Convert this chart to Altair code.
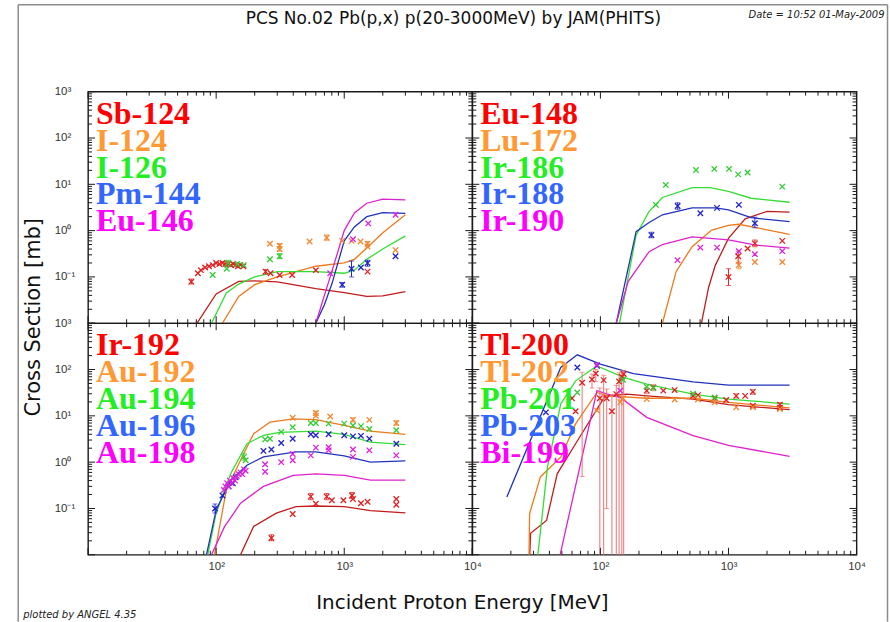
import altair as alt
import pandas as pd

# ---------------------------------------------------------------- layout
W, H = 385, 232
X_DOMAIN = [10, 10000]
Y_DOMAIN = [0.01, 1000]

X_MAJOR = [10, 100, 1000, 10000]
Y_MAJOR = [0.01, 0.1, 1, 10, 100, 1000]
MINOR_STEPS = [2, 3, 4, 5, 6, 7, 8, 9]
X_LABELS = [100, 1000, 10000]
Y_LABELS = [0.1, 1, 10, 100, 1000]

TEXT_COLORS = ["#ff0000", "#ff9933", "#22ee22", "#3366ff", "#ff00ff"]
CURVE_COLORS = ["#c01c1c", "#ee7a1a", "#33dd33", "#2233bb", "#dd22cc"]
DATA_COLORS = ["#e02020", "#f08830", "#33cc33", "#2222cc", "#dd22dd"]

# ---------------------------------------------------------------- panel 1
P1_NAMES = ["Sb-124", "I-124", "I-126", "Pm-144", "Eu-146"]

SB124_CALC_E = [60, 70, 100, 150, 200, 300, 600, 1000, 1500, 2000, 3000]
SB124_CALC_S = [0.003, 0.0095, 0.043, 0.08, 0.082, 0.078, 0.056, 0.046, 0.038, 0.039, 0.048]
I124_CALC_E = [100, 112, 150, 200, 300, 600, 1000, 1200, 1500, 2000, 3000]
I124_CALC_S = [0.003, 0.01, 0.038, 0.068, 0.1, 0.17, 0.2, 0.24, 0.42, 0.9, 2.2]
I126_CALC_E = [80, 92, 120, 150, 200, 300, 600, 1000, 1200, 1500, 2000, 3000]
I126_CALC_S = [0.002, 0.01, 0.045, 0.07, 0.1, 0.13, 0.13, 0.12, 0.14, 0.24, 0.4, 0.77]
PM144_CALC_E = [550, 600, 700, 800, 1000, 1200, 1500, 2000, 3000]
PM144_CALC_S = [0.002, 0.01, 0.025, 0.07, 0.6, 1.2, 2.0, 2.45, 2.35]
EU146_CALC_E = [550, 600, 700, 800, 1000, 1200, 1500, 2000, 3000]
EU146_CALC_S = [0.002, 0.01, 0.04, 0.13, 1.0, 2.4, 3.9, 4.8, 4.6]

SB124_EXP_E = [64, 72, 76, 82, 88, 94, 100, 106, 112, 118, 124, 130, 136, 142, 148, 155, 163,
               243, 266, 313, 392, 600, 1520]
SB124_EXP_S = [0.079, 0.12, 0.14, 0.16, 0.17, 0.18, 0.2, 0.19, 0.2, 0.19, 0.19, 0.18, 0.19, 0.18,
               0.17, 0.18, 0.17, 0.13, 0.12, 0.11, 0.11, 0.14, 0.13]
I124_EXP_E = [263, 313, 313, 536, 730, 965, 1140, 1340, 1520, 1520, 2515]
I124_EXP_S = [0.52, 0.47, 0.4, 0.58, 0.7, 0.6, 0.6, 0.58, 0.52, 0.45, 0.38]
I126_EXP_E = [94, 121, 124, 146, 164, 263, 313]
I126_EXP_S = [0.11, 0.15, 0.2, 0.19, 0.18, 0.24, 0.28]
PM144_EXP_E = [965, 1140, 1350, 1520, 2515]
PM144_EXP_S = [0.068, 0.15, 0.16, 0.2, 0.28]
EU146_EXP_E = [777, 1170, 1540, 2515]
EU146_EXP_S = [0.12, 0.65, 1.43, 2.2]

SB124_ERR_E, SB124_ERR_LO, SB124_ERR_HI = [64, 243], [0.07, 0.115], [0.09, 0.145]
I124_ERR_E, I124_ERR_LO, I124_ERR_HI = [313, 730, 1520], [0.36, 0.62, 0.45], [0.53, 0.8, 0.58]
I126_ERR_E, I126_ERR_LO, I126_ERR_HI = [124, 313], [0.17, 0.25], [0.23, 0.32]
PM144_ERR_E, PM144_ERR_LO, PM144_ERR_HI = [965, 1140, 1520], [0.06, 0.1, 0.17], [0.076, 0.22, 0.23]
EU146_ERR_E, EU146_ERR_LO, EU146_ERR_HI = [], [], []

# ---------------------------------------------------------------- panel 2
P2_NAMES = ["Eu-148", "Lu-172", "Ir-186", "Ir-188", "Ir-190"]

EU148_CALC_E = [560, 615, 700, 790, 1000, 1350, 2000, 3000]
EU148_CALC_S = [0.003, 0.01, 0.06, 0.18, 0.68, 1.8, 2.6, 2.5]
LU172_CALC_E = [280, 305, 390, 520, 740, 1000, 1200, 1800, 3000]
LU172_CALC_S = [0.003, 0.01, 0.13, 0.45, 1.03, 1.3, 1.37, 1.1, 0.83]
IR186_CALC_E = [130, 141, 190, 240, 305, 520, 720, 1000, 1500, 3000]
IR186_CALC_S = [0.003, 0.01, 0.8, 2.6, 5.2, 8.5, 8.5, 7.0, 5.0, 4.1]
IR188_CALC_E = [125, 133, 190, 240, 305, 520, 790, 1000, 1500, 3000]
IR188_CALC_S = [0.003, 0.01, 0.95, 1.5, 2.2, 3.1, 3.1, 2.8, 1.9, 1.56]
IR190_CALC_E = [125, 133, 165, 240, 305, 520, 1000, 1600, 3000]
IR190_CALC_S = [0.003, 0.01, 0.08, 0.35, 0.5, 0.73, 0.63, 0.49, 0.42]

EU148_EXP_E = [1000, 1190, 1410, 1607, 2630]
EU148_EXP_S = [0.1, 0.28, 0.41, 0.53, 0.6]
LU172_EXP_E = [1205, 1607, 2630]
LU172_EXP_S = [0.18, 0.21, 0.21]
IR186_EXP_E = [271, 324, 558, 775, 1010, 1190, 1410, 2630]
IR186_EXP_S = [3.6, 9.7, 20.4, 21.5, 21.5, 16.4, 18, 8.9]
IR188_EXP_E = [250, 401, 603, 813, 1205, 1607]
IR188_EXP_S = [0.8, 3.4, 2.37, 3.1, 3.6, 1.44]
IR190_EXP_E = [400, 603, 813, 1205, 1607, 2630]
IR190_EXP_S = [0.23, 0.43, 0.43, 0.36, 0.31, 0.36]

EU148_ERR_E, EU148_ERR_LO, EU148_ERR_HI = [1000, 1190, 1607], [0.065, 0.2, 0.45], [0.15, 0.36, 0.63]
LU172_ERR_E, LU172_ERR_LO, LU172_ERR_HI = [1205], [0.15], [0.22]
IR186_ERR_E, IR186_ERR_LO, IR186_ERR_HI = [], [], []
IR188_ERR_E, IR188_ERR_LO, IR188_ERR_HI = [250, 401, 1607], [0.7, 2.9, 1.15], [0.92, 4.0, 1.95]
IR190_ERR_E, IR190_ERR_LO, IR190_ERR_HI = [], [], []

# ---------------------------------------------------------------- panel 3
P3_NAMES = ["Ir-192", "Au-192", "Au-194", "Au-196", "Au-198"]

IR192_CALC_E = [140, 155, 196, 295, 420, 600, 1000, 1600, 3000]
IR192_CALC_S = [0.003, 0.01, 0.041, 0.079, 0.11, 0.113, 0.11, 0.09, 0.08]
AU192_CALC_E = [92, 97, 120, 155, 196, 263, 400, 600, 1000, 1600, 3000]
AU192_CALC_S = [0.003, 0.01, 0.25, 1.1, 4.1, 7.3, 8.6, 8.3, 6.2, 4.7, 4.0]
AU194_CALC_E = [80, 86, 100, 130, 174, 234, 313, 600, 1000, 1600, 3000]
AU194_CALC_S = [0.003, 0.01, 0.08, 0.57, 2.5, 3.8, 4.4, 4.7, 4.0, 2.7, 2.4]
AU196_CALC_E = [78, 84, 100, 130, 174, 234, 420, 600, 1000, 1600, 3000]
AU196_CALC_S = [0.003, 0.01, 0.093, 0.41, 0.86, 1.3, 1.66, 1.66, 1.36, 1.0, 1.07]
AU198_CALC_E = [85, 92, 116, 155, 234, 400, 600, 1000, 1600, 3000]
AU198_CALC_S = [0.003, 0.01, 0.04, 0.13, 0.3, 0.52, 0.56, 0.52, 0.41, 0.41]

IR192_EXP_E = [270, 396, 548, 600, 730, 800, 985, 1150, 1170, 1350, 1520, 2550, 2550]
IR192_EXP_S = [0.023, 0.076, 0.18, 0.126, 0.18, 0.15, 0.15, 0.19, 0.16, 0.13, 0.14, 0.16, 0.12]
AU192_EXP_E = [396, 600, 600, 777, 1170, 1570, 2550]
AU192_EXP_S = [9.1, 11.5, 10.0, 9.7, 8.2, 8.2, 7.0]
AU194_EXP_E = [165, 170, 241, 263, 322, 396, 548, 600, 755, 1000, 1170, 1350, 1570, 2550]
AU194_EXP_S = [1.3, 1.1, 3.1, 3.2, 4.5, 5.7, 7.0, 7.0, 6.8, 6.8, 6.2, 6.0, 5.2, 4.9]
AU196_EXP_E = [98, 112, 125, 135, 142, 234, 270, 322, 396, 548, 600, 755, 1000, 1170, 1350,
               1570, 2550]
AU196_EXP_S = [0.1, 0.19, 0.3, 0.35, 0.47, 1.75, 1.87, 2.6, 3.2, 4.0, 3.8, 4.0, 3.8, 3.6, 3.7,
               3.2, 2.5]
AU198_EXP_E = [115, 118, 122, 125, 128, 132, 136, 140, 145, 150, 155, 160, 165, 170, 241, 241,
               322, 396, 396, 548, 600, 755, 755, 1170, 1170, 1570, 2550]
AU198_EXP_S = [0.25, 0.3, 0.35, 0.3, 0.4, 0.35, 0.45, 0.4, 0.5, 0.55, 0.6, 0.55, 0.7, 0.65, 0.9,
               0.62, 1.0, 1.5, 1.1, 1.4, 2.06, 2.1, 1.8, 1.87, 1.3, 1.8, 1.4]

IR192_ERR_E, IR192_ERR_LO, IR192_ERR_HI = [270, 548, 730, 1150], [0.02, 0.155, 0.155, 0.165], [0.027, 0.21, 0.21, 0.22]
AU192_ERR_E, AU192_ERR_LO, AU192_ERR_HI = [600, 1170, 2550], [10.3, 7.4, 6.3], [12.8, 9.1, 7.8]
AU194_ERR_E, AU194_ERR_LO, AU194_ERR_HI = [165], [1.1], [1.55]
AU196_ERR_E, AU196_ERR_LO, AU196_ERR_HI = [98], [0.08], [0.125]
AU198_ERR_E, AU198_ERR_LO, AU198_ERR_HI = [], [], []

# ---------------------------------------------------------------- panel 4
P4_NAMES = ["Tl-200", "Tl-202", "Pb-201", "Pb-203", "Bi-199"]

TL200_CALC_E = [27.5, 28.5, 38, 46, 64, 109, 161, 230, 529, 1000, 3000]
TL200_CALC_S = [0.002, 0.029, 0.055, 0.56, 2.5, 27, 29.5, 27, 23, 17.4, 13.6]
TL202_CALC_E = [27.5, 28, 34, 49, 64, 94, 113, 230, 529, 1000, 3000]
TL202_CALC_S = [0.002, 0.077, 0.48, 1.28, 6.7, 32, 27, 24, 24, 19.5, 14.8]
PB201_CALC_E = [31, 32.5, 38.6, 49, 64, 94, 152, 230, 529, 1000, 3000]
PB201_CALC_S = [0.002, 0.01, 0.78, 18, 57, 120, 68, 48.5, 29.5, 23, 18]
PB203_CALC_E = [18.6, 49, 66, 100, 181, 529, 1000, 3000]
PB203_CALC_S = [0.176, 111, 208, 131, 82, 54, 46, 46]
BI199_CALC_E = [45, 94, 113, 143, 230, 529, 1000, 3000]
BI199_CALC_S = [0.004, 35, 29.5, 25, 9.3, 3.75, 2.3, 1.34]

TL200_EXP_E = [60, 64, 72, 86, 92, 99, 106, 112, 123, 133, 140, 147, 152, 230, 259, 310, 380,
               529, 578, 780, 960, 1150, 1350, 1550, 1550, 2520, 2520]
TL200_EXP_S = [24, 12.6, 52, 61, 82, 24, 59, 24, 12.6, 29.5, 55, 70, 80, 35, 41, 35, 36, 27,
               28, 24, 22, 27, 27, 33, 16.5, 17.5, 15]
TL202_EXP_E = [60, 94, 143, 150, 230, 380, 578, 780, 1150, 1550, 2520]
TL202_EXP_S = [4.8, 13, 19.8, 24, 23, 22.5, 22.5, 19.5, 15.3, 15.3, 14]
PB201_EXP_E = [66, 150, 230, 259, 529, 780]
PB201_EXP_S = [32, 60, 42.6, 40, 30, 25]
PB203_EXP_E = [37.5, 66, 94]
PB203_EXP_S = [11.9, 111, 120]
BI199_EXP_E = [94, 143]
BI199_EXP_S = [125, 35]

TL200_ERR_E = [72, 86, 92, 99, 106, 112, 123, 133, 140, 147, 152, 230, 259, 529, 1150, 1550, 2520]
TL200_ERR_LO = [0.49, 40, 55, 0.005, 0.005, 0.1, 0.005, 0.005, 0.005, 0.005, 0.005, 30, 35, 24,
                24, 29, 15.5]
TL200_ERR_HI = [87, 80, 100, 40, 75, 38, 28, 45, 85, 90, 95, 40, 47, 30, 30, 37, 19.5]
TL202_ERR_E, TL202_ERR_LO, TL202_ERR_HI = [], [], []
PB201_ERR_E, PB201_ERR_LO, PB201_ERR_HI = [], [], []
PB203_ERR_E, PB203_ERR_LO, PB203_ERR_HI = [], [], []
BI199_ERR_E, BI199_ERR_LO, BI199_ERR_HI = [], [], []

# ---------------------------------------------------------------- helpers
XSHAPE = "M-1,-1L1,1M-1,1L1,-1"
SUP_EXPR = ("datum.value >= 9999 ? '10\u2074' : datum.value >= 999 ? '10\u00b3' : "
            "datum.value >= 99 ? '10\u00b2' : datum.value >= 9 ? '10\u00b9' : "
            "datum.value >= 0.99 ? '10\u2070' : '10\u207b\u00b9'")
FRAME = "#1a1a1a"
SANS = "DejaVu Sans"


def minor_values(decades):
    return [m * d for d in decades for m in MINOR_STEPS]


def build_panel(names, calc, exp, err, show_x, show_y, err_colors, extra=()):
    xs = alt.Scale(type="log", domain=X_DOMAIN, nice=False)
    ys = alt.Scale(type="log", domain=Y_DOMAIN, nice=False)
    xaxis = None
    yaxis = None
    if show_x:
        xaxis = alt.Axis(values=X_LABELS, labelExpr=SUP_EXPR, ticks=False, domain=False,
                         grid=False, title=None, labelFlush=False, labelOverlap=False,
                         labelPadding=6, labelFont="Liberation Sans", labelFontSize=11.5,
                         labelColor="#333")
    if show_y:
        yaxis = alt.Axis(values=Y_LABELS, labelExpr=SUP_EXPR, ticks=False, domain=False,
                         grid=False, title=None, labelOverlap=False, labelAlign="left",
                         labelBaseline="middle", labelPadding=34,
                         labelFont="Liberation Sans", labelFontSize=11.5, labelColor="#333")

    def X(f):
        return alt.X(f, type="quantitative", scale=xs, axis=xaxis)

    def Y(f):
        return alt.Y(f, type="quantitative", scale=ys, axis=yaxis)

    calc_rows, exp_rows, err_rows = [], [], []
    for i, name in enumerate(names):
        for e, s in zip(*calc[i]):
            calc_rows.append({"E": e, "S": s, "iso": name, "col": CURVE_COLORS[i]})
        for e, s in zip(*exp[i]):
            exp_rows.append({"E": e, "S": s, "iso": name, "col": DATA_COLORS[i]})
        for e, lo, hi in zip(*err[i]):
            err_rows.append({"E": e, "lo": lo, "hi": hi, "iso": name, "col": err_colors[i]})
    calc_df = pd.DataFrame(calc_rows)
    exp_df = pd.DataFrame(exp_rows)
    err_df = pd.DataFrame(err_rows)

    layers = []
    layers.append(
        alt.Chart(calc_df).mark_line(clip=True, strokeWidth=1.3).encode(
            x=X("E"), y=Y("S"), color=alt.Color("col:N", scale=None), detail="iso:N"))
    layers.append(
        alt.Chart(err_df).mark_rule(clip=True, strokeWidth=1).encode(
            x=X("E"), y=Y("lo"), y2=alt.Y2("hi"), color=alt.Color("col:N", scale=None)))
    for end in ("lo", "hi"):
        layers.append(
            alt.Chart(err_df).mark_tick(clip=True, orient="horizontal", size=5, thickness=1).encode(
                x=X("E"), y=Y(end), color=alt.Color("col:N", scale=None)))
    layers.append(
        alt.Chart(exp_df).mark_point(shape=XSHAPE, filled=False, size=30, strokeWidth=1.3,
                                     opacity=1, clip=True).encode(
            x=X("E"), y=Y("S"), color=alt.Color("col:N", scale=None)))

    # inward ticks on all four sides
    for vals, length in ((X_MAJOR, 7), (minor_values([10, 100, 1000]), 4)):
        tdf = pd.DataFrame({"v": vals})
        layers.append(alt.Chart(tdf).mark_rule(color=FRAME, strokeWidth=1).encode(
            x=X("v"), y=alt.value(0), y2=alt.value(length)))
        layers.append(alt.Chart(tdf).mark_rule(color=FRAME, strokeWidth=1).encode(
            x=X("v"), y=alt.value(H - length), y2=alt.value(H)))
    for vals, length in ((Y_MAJOR, 7), (minor_values([0.01, 0.1, 1, 10, 100]), 4)):
        tdf = pd.DataFrame({"v": vals})
        layers.append(alt.Chart(tdf).mark_rule(color=FRAME, strokeWidth=1).encode(
            y=Y("v"), x=alt.value(0), x2=alt.value(length)))
        layers.append(alt.Chart(tdf).mark_rule(color=FRAME, strokeWidth=1).encode(
            y=Y("v"), x=alt.value(W - length), x2=alt.value(W)))

    one = pd.DataFrame({"k": [0]})
    for i, name in enumerate(names):
        layers.append(alt.Chart(one).mark_text(
            font="Liberation Serif", fontWeight="bold", fontSize=32, align="left",
            baseline="alphabetic").encode(
            x=alt.value(8), y=alt.value(32 + 27 * i), text=alt.value(name),
            color=alt.value(TEXT_COLORS[i])))
    layers.extend(extra)
    return alt.layer(*layers).properties(width=W, height=H)


one = pd.DataFrame({"k": [0]})
BORDER = "#8c8c8c"
decor = [
    alt.Chart(one).mark_rule(color=BORDER, strokeWidth=1.5).encode(
        x=alt.value(-70), y=alt.value(-87), y2=alt.value(531)),
    alt.Chart(one).mark_rule(color=BORDER, strokeWidth=1.5).encode(
        x=alt.value(801), y=alt.value(-87), y2=alt.value(531)),
    alt.Chart(one).mark_rule(color=BORDER, strokeWidth=1.5).encode(
        x=alt.value(-70), x2=alt.value(801), y=alt.value(-87)),
    alt.Chart(one).mark_text(font=SANS, fontSize=17, align="center", baseline="alphabetic",
                             color="#111").encode(
        x=alt.value(366), y=alt.value(-68),
        text=alt.value("PCS No.02 Pb(p,x) p(20-3000MeV)  by JAM(PHITS)")),
    alt.Chart(one).mark_text(font=SANS, fontSize=10, fontStyle="italic", align="right",
                             baseline="alphabetic", color="#222").encode(
        x=alt.value(798), y=alt.value(-74), text=alt.value("Date = 10:52 01-May-2009")),
    alt.Chart(one).mark_text(font=SANS, fontSize=10, fontStyle="italic", align="left",
                             baseline="alphabetic", color="#222").encode(
        x=alt.value(-65), y=alt.value(527), text=alt.value("plotted by ANGEL 4.35")),
    alt.Chart(one).mark_text(font=SANS, fontSize=20, align="center", baseline="alphabetic",
                             color="#111").encode(
        x=alt.value(375), y=alt.value(518), text=alt.value("Incident Proton Energy [MeV]")),
    alt.Chart(one).mark_text(font=SANS, fontSize=21, align="center", baseline="alphabetic",
                             angle=270, color="#111").encode(
        x=alt.value(-48), y=alt.value(226), text=alt.value("Cross Section [mb]")),
]

p1 = build_panel(
    P1_NAMES,
    [(SB124_CALC_E, SB124_CALC_S), (I124_CALC_E, I124_CALC_S), (I126_CALC_E, I126_CALC_S),
     (PM144_CALC_E, PM144_CALC_S), (EU146_CALC_E, EU146_CALC_S)],
    [(SB124_EXP_E, SB124_EXP_S), (I124_EXP_E, I124_EXP_S), (I126_EXP_E, I126_EXP_S),
     (PM144_EXP_E, PM144_EXP_S), (EU146_EXP_E, EU146_EXP_S)],
    [(SB124_ERR_E, SB124_ERR_LO, SB124_ERR_HI), (I124_ERR_E, I124_ERR_LO, I124_ERR_HI),
     (I126_ERR_E, I126_ERR_LO, I126_ERR_HI), (PM144_ERR_E, PM144_ERR_LO, PM144_ERR_HI),
     (EU146_ERR_E, EU146_ERR_LO, EU146_ERR_HI)],
    show_x=False, show_y=True, err_colors=DATA_COLORS, extra=decor)

p2 = build_panel(
    P2_NAMES,
    [(EU148_CALC_E, EU148_CALC_S), (LU172_CALC_E, LU172_CALC_S), (IR186_CALC_E, IR186_CALC_S),
     (IR188_CALC_E, IR188_CALC_S), (IR190_CALC_E, IR190_CALC_S)],
    [(EU148_EXP_E, EU148_EXP_S), (LU172_EXP_E, LU172_EXP_S), (IR186_EXP_E, IR186_EXP_S),
     (IR188_EXP_E, IR188_EXP_S), (IR190_EXP_E, IR190_EXP_S)],
    [(EU148_ERR_E, EU148_ERR_LO, EU148_ERR_HI), (LU172_ERR_E, LU172_ERR_LO, LU172_ERR_HI),
     (IR186_ERR_E, IR186_ERR_LO, IR186_ERR_HI), (IR188_ERR_E, IR188_ERR_LO, IR188_ERR_HI),
     (IR190_ERR_E, IR190_ERR_LO, IR190_ERR_HI)],
    show_x=False, show_y=False, err_colors=DATA_COLORS)

p3 = build_panel(
    P3_NAMES,
    [(IR192_CALC_E, IR192_CALC_S), (AU192_CALC_E, AU192_CALC_S), (AU194_CALC_E, AU194_CALC_S),
     (AU196_CALC_E, AU196_CALC_S), (AU198_CALC_E, AU198_CALC_S)],
    [(IR192_EXP_E, IR192_EXP_S), (AU192_EXP_E, AU192_EXP_S), (AU194_EXP_E, AU194_EXP_S),
     (AU196_EXP_E, AU196_EXP_S), (AU198_EXP_E, AU198_EXP_S)],
    [(IR192_ERR_E, IR192_ERR_LO, IR192_ERR_HI), (AU192_ERR_E, AU192_ERR_LO, AU192_ERR_HI),
     (AU194_ERR_E, AU194_ERR_LO, AU194_ERR_HI), (AU196_ERR_E, AU196_ERR_LO, AU196_ERR_HI),
     (AU198_ERR_E, AU198_ERR_LO, AU198_ERR_HI)],
    show_x=True, show_y=True, err_colors=DATA_COLORS)

p4 = build_panel(
    P4_NAMES,
    [(TL200_CALC_E, TL200_CALC_S), (TL202_CALC_E, TL202_CALC_S), (PB201_CALC_E, PB201_CALC_S),
     (PB203_CALC_E, PB203_CALC_S), (BI199_CALC_E, BI199_CALC_S)],
    [(TL200_EXP_E, TL200_EXP_S), (TL202_EXP_E, TL202_EXP_S), (PB201_EXP_E, PB201_EXP_S),
     (PB203_EXP_E, PB203_EXP_S), (BI199_EXP_E, BI199_EXP_S)],
    [(TL200_ERR_E, TL200_ERR_LO, TL200_ERR_HI), (TL202_ERR_E, TL202_ERR_LO, TL202_ERR_HI),
     (PB201_ERR_E, PB201_ERR_LO, PB201_ERR_HI), (PB203_ERR_E, PB203_ERR_LO, PB203_ERR_HI),
     (BI199_ERR_E, BI199_ERR_LO, BI199_ERR_HI)],
    show_x=True, show_y=False,
    err_colors=["#ec7272"] + DATA_COLORS[1:])

chart = alt.concat(p1, p2, p3, p4, columns=2, spacing=0, bounds="flush").properties(
    padding={"left": 16.25, "top": 2.25, "right": 0.5, "bottom": 0},
    background="white",
).configure_view(stroke=FRAME, strokeWidth=1.4)

chart.save("out.html", embed_options={"renderer": "svg", "actions": False})
